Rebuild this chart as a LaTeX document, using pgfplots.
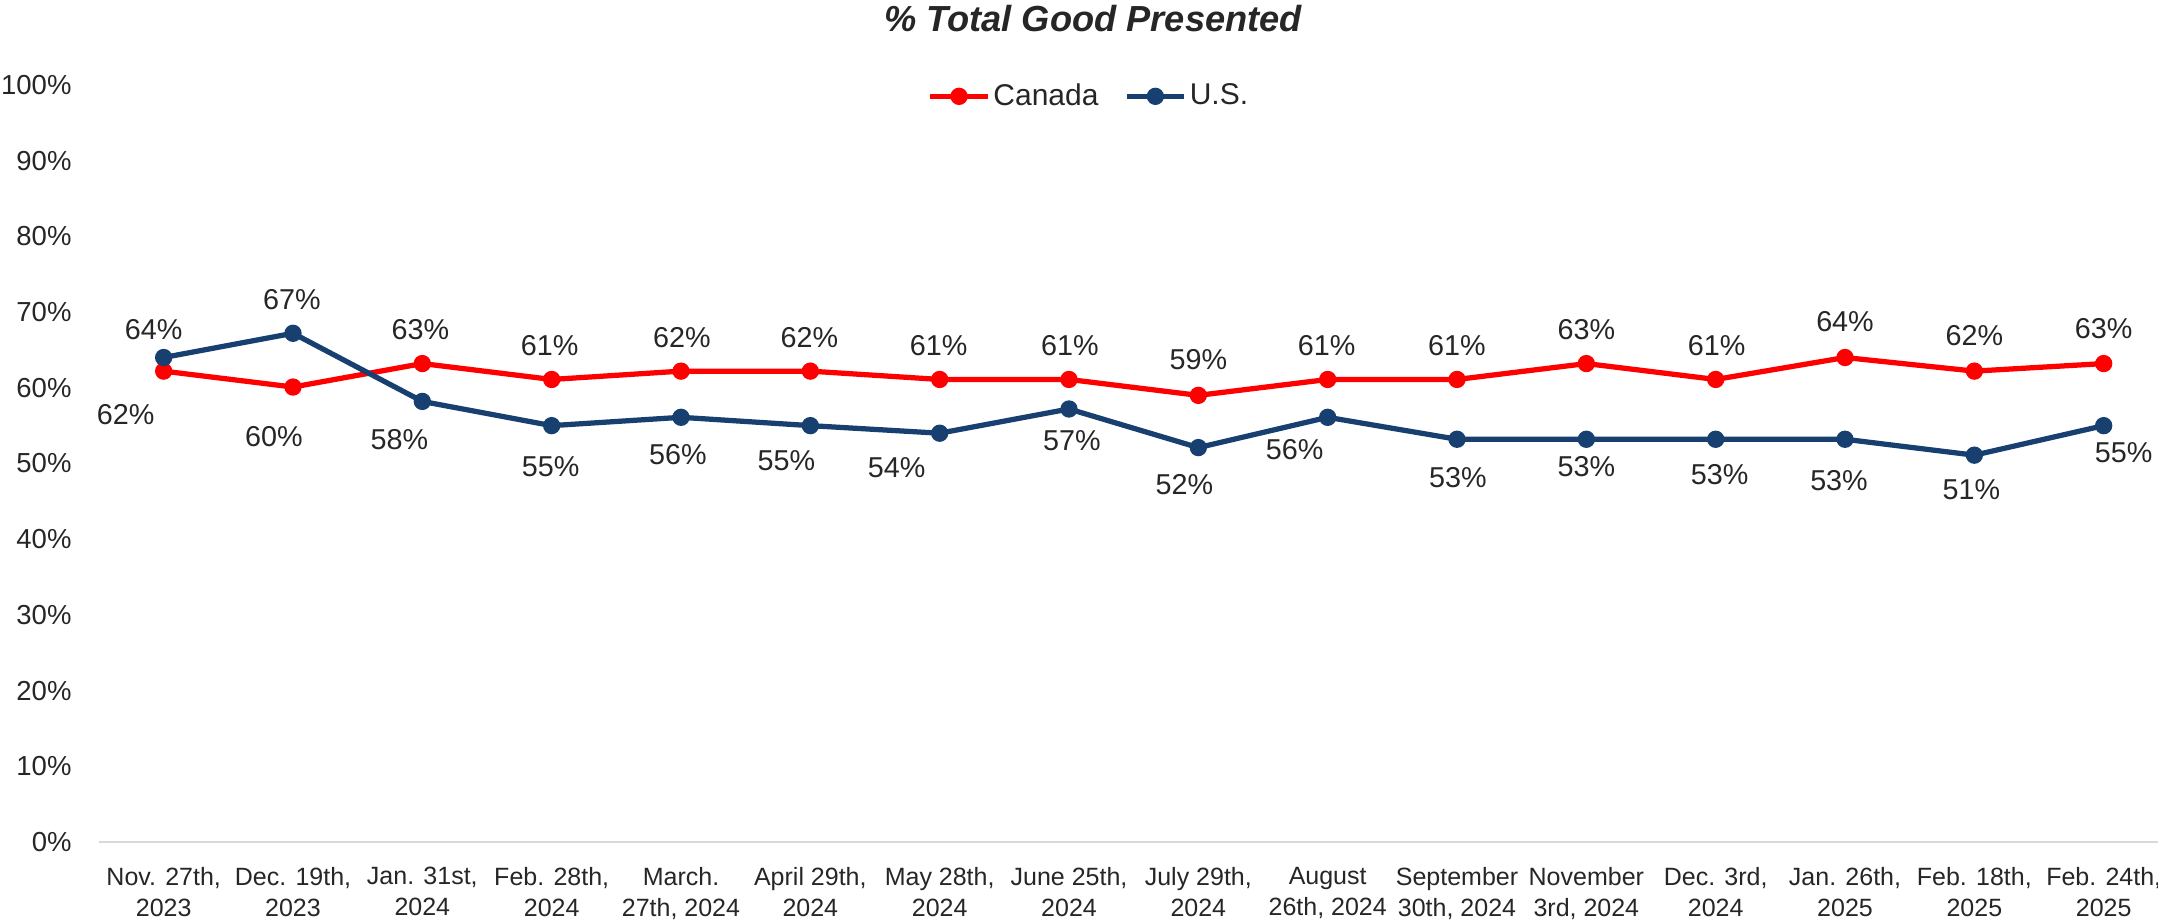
\documentclass[border=0pt]{standalone}
\usepackage{pgfplots}
\pgfplotsset{compat=1.18}
\usepackage{pgfplotstable}
\usepackage{fontspec}
\setmainfont{Liberation Sans}
\definecolor{canred}{HTML}{FF0000}
\definecolor{usblue}{HTML}{173F6F}
\definecolor{txt}{HTML}{262626}
\definecolor{axgray}{HTML}{D9D9D9}

\pgfplotstableread{
x y lab dx dy
0 62.2 62 -15.2 -17.2
1 60.1 60 -7.6 -20.0
2 63.2 63 -0.8 13.6
3 61.1 61 -0.8 13.6
4 62.2 62 0.4 13.6
5 62.2 62 -0.4 13.6
6 61.1 61 -0.4 13.6
7 61.1 61 0.4 13.6
8 59.0 59 0 14.4
9 61.1 61 -0.4 13.6
10 61.1 61 0 13.6
11 63.2 63 0 13.6
12 61.1 61 0.4 13.6
13 64.0 64 0 14.4
14 62.2 62 0 14.4
15 63.2 63 0 14.0
}\canada

\pgfplotstableread{
x y lab dx dy
0 64.0 64 -4.0 11.2
1 67.2 67 -0.4 13.6
2 58.2 58 -9.2 -15.2
3 55.0 55 -0.4 -16.4
4 56.1 56 -1.2 -14.8
5 55.0 55 -9.6 -14.0
6 54.0 54 -17.2 -13.6
7 57.2 57 1.2 -12.8
8 52.1 52 -5.6 -14.8
9 56.1 56 -13.2 -12.8
10 53.2 53 0.4 -15.2
11 53.2 53 0 -10.8
12 53.2 53 1.6 -14.0
13 53.2 53 -2.4 -16.4
14 51.1 51 -1.2 -14.0
15 55.0 55 8.0 -10.8
}\us

\begin{document}
\begin{tikzpicture}
\begin{axis}[
  scale only axis,
  width=823.6pt, height=302.8pt,
  at={(0,0)}, anchor=south west,
  xmin=-0.5, xmax=15.42,
  ymin=0, ymax=100,
  clip=false,
  axis x line*=bottom,
  axis y line*=left,
  x axis line style={draw=axgray, line width=0.8pt},
  y axis line style={draw=none},
  major tick length=0pt,
  tick style={draw=none},
  ytick={0,10,...,100},
  /pgf/number format/assume math mode=true,
  yticklabel={\pgfmathprintnumber{\tick}\%},
  yticklabel style={anchor=east, inner sep=0pt, xshift=-10.8pt, text=txt, font=\fontsize{11}{13}\selectfont},
  xtick={0,...,15},
  xticklabels={{Nov. 27th,\\2023},{Dec. 19th,\\2023},{Jan. 31st,\\2024},{Feb. 28th,\\2024},{March.\\27th, 2024},{April 29th,\\2024},{May 28th,\\2024},{June 25th,\\2024},{July 29th,\\2024},{August\\26th, 2024},{September\\30th, 2024},{November\\3rd, 2024},{Dec. 3rd,\\2024},{Jan. 26th,\\2025},{Feb. 18th,\\2025},{Feb. 24th,\\2025}},
  xticklabel style={anchor=north, inner sep=0pt, yshift=-10pt, align=center, text=txt, font=\fontsize{10}{12.4}\selectfont},
  legend style={at={(axis description cs:0.481,0.985)}, anchor=center, draw=none, fill=none,
    legend columns=2, font=\fontsize{12}{14}\selectfont, text=txt,
    /tikz/every even column/.append style={column sep=9pt},
    nodes={inner sep=1.2pt}},
  legend image code/.code={\draw[mark repeat=2,mark phase=2,#1] plot coordinates {(0pt,0pt) (11.5pt,0pt) (23pt,0pt)};},
  point meta=explicit,
  nodes near coords={\pgfmathprintnumber[fixed,precision=0]{\pgfplotspointmeta}\%},
  visualization depends on={\thisrow{dx} \as \dx},
  visualization depends on={\thisrow{dy} \as \dy},
  nodes near coords style={anchor=center, inner sep=0pt, xshift=\dx pt, yshift=\dy pt, text=txt, font=\fontsize{11.5}{13}\selectfont},
]
\addplot[canred, line width=2.1pt, mark=*, mark size=2.4pt, mark options={solid, fill=canred, draw=canred}]
  table[x=x, y=y, meta=lab] {\canada};
\addlegendentry{Canada}
\addplot[usblue, line width=2.1pt, mark=*, mark size=2.4pt, mark options={solid, fill=usblue, draw=usblue}]
  table[x=x, y=y, meta=lab] {\us};
\addlegendentry{U.S.}
\node[anchor=base, text=txt, font=\fontsize{14.5}{17}\selectfont\bfseries\itshape] at (axis description cs:0.4828,1.071) {\% Total Good Presented};
\end{axis}
\pgfresetboundingbox
\path[use as bounding box] (-39.6pt,-32.4pt) rectangle (823.6pt,336.8pt);
\end{tikzpicture}
\end{document}
